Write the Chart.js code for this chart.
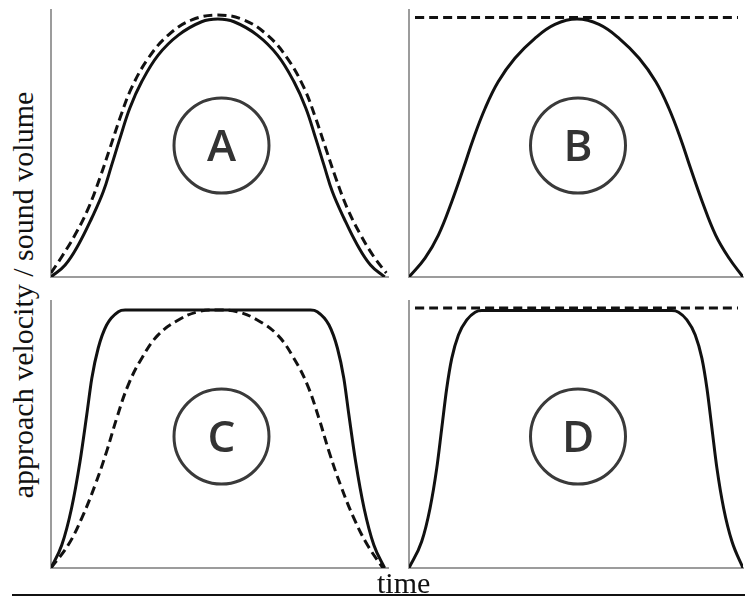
<!DOCTYPE html>
<html>
<head>
<meta charset="utf-8">
<script src="https://cdn.jsdelivr.net/npm/chart.js@4.4.1/dist/chart.umd.min.js"></script>
<style>
  body { margin: 0; background: #fff; }
  #page { position: relative; width: 745px; height: 599px; overflow: hidden; }
  canvas { position: absolute; }
  .ylabel {
    position: absolute; left: 23px; top: 295px;
    font-family: "Liberation Serif", "Times New Roman", serif;
    font-size: 30px; line-height: 30px; color: #111; white-space: nowrap;
    transform: translate(-50%, -50%) rotate(-90deg);
  }
  .xlabel {
    position: absolute; left: 377px; top: 568px;
    font-family: "Liberation Serif", "Times New Roman", serif;
    font-size: 30px; line-height: 30px; color: #111;
  }
  .baseline { position: absolute; left: 12px; top: 594px; width: 733px; height: 2px; background: #111; }
</style>
</head>
<body>
<div id="page">
  <canvas id="chartA" width="355" height="285" style="left:40px;top:0px"></canvas>
  <canvas id="chartB" width="347" height="285" style="left:398px;top:0px"></canvas>
  <canvas id="chartC" width="355" height="285" style="left:40px;top:291px"></canvas>
  <canvas id="chartD" width="347" height="285" style="left:398px;top:291px"></canvas>
  <div class="ylabel">approach velocity / sound volume</div>
  <div class="baseline"></div>
  <div class="xlabel">time</div>
</div>
<script>
// panel letters
const panelLetters = ['A', 'B', 'C', 'D'];

// A: velocity (solid) and sound (dashed) both bell shaped
const aSolidX = [0, 4.2, 8.1, 12.1, 15.5, 18.0, 20.5, 23.4, 26.9, 31.8, 37.8, 44.7, 49.5, 54.3, 61.2, 67.2, 72.1, 75.6, 78.5, 81.0, 83.5, 86.9, 90.9, 94.8, 99];
const aSolidY = [0, 4.5, 12.0, 22.1, 31.9, 41.9, 52.1, 63.3, 73.1, 83.1, 90.6, 95.6, 96.6, 95.6, 90.6, 83.1, 73.1, 63.3, 52.1, 41.9, 31.9, 22.1, 12.0, 4.5, 0];
const aDashX = [0, 3.2, 7.1, 11.1, 14.5, 17.5, 20.5, 23.9, 28.9, 34.8, 41.8, 49.5, 57.2, 64.2, 70.1, 75.1, 78.5, 81.5, 84.5, 87.9, 91.9, 95.8, 99.5];
const aDashY = [1.5, 7.6, 15.7, 25.8, 37.1, 48.3, 59.6, 70.8, 82.0, 90.6, 96.3, 98.1, 96.3, 90.6, 82.0, 70.8, 59.6, 48.3, 37.1, 25.8, 15.7, 7.6, 1.5];

// B: bell shaped velocity, constant sound
const bSolidX = [0, 4.8, 8.8, 12.8, 16.3, 19.3, 22.8, 26.7, 31.7, 37.7, 43.7, 50.3, 56.9, 62.9, 68.9, 73.9, 77.8, 81.3, 84.3, 87.8, 91.8, 95.8, 100];
const bSolidY = [0, 7.1, 15.7, 28.2, 40.7, 51.9, 63.2, 73.1, 81.9, 89.4, 94.6, 96.6, 94.6, 89.4, 81.9, 73.1, 63.2, 51.9, 40.7, 28.2, 15.7, 7.1, 0];
const bDashX = [1.8, 98.5];
const bDashY = [97.2, 97.2];

// C: plateau velocity, bell shaped sound
const cSolidX = [0, 3.2, 6.1, 8.6, 10.6, 12.1, 14.0, 16.5, 20.0, 22.0, 77.0, 79.0, 82.5, 85.0, 86.9, 88.4, 90.4, 92.9, 95.8, 99];
const cSolidY = [0, 8.6, 22.4, 39.8, 57.3, 71.0, 82.3, 91.0, 96.0, 96.6, 96.6, 96.0, 91.0, 82.3, 71.0, 57.3, 39.8, 22.4, 8.6, 0];
const cDashX = [0, 5.1, 9.1, 13.1, 16.5, 19.5, 22.9, 26.9, 31.8, 37.8, 43.7, 49.5, 55.3, 61.2, 67.2, 72.1, 76.1, 79.5, 82.5, 85.9, 89.9, 93.9, 98.5];
const cDashY = [0, 8.6, 18.6, 31.1, 43.6, 56.1, 68.5, 78.5, 87.3, 92.9, 96.0, 96.6, 96.0, 92.9, 87.3, 78.5, 68.5, 56.1, 43.6, 31.1, 18.6, 8.6, 0];

// D: plateau velocity, constant sound
const dSolidX = [0, 3.8, 6.3, 8.3, 9.8, 11.3, 12.8, 14.8, 17.3, 19.8, 21.8, 78.7, 80.7, 83.2, 85.7, 87.7, 89.2, 90.7, 92.2, 94.2, 96.7, 100];
const dSolidY = [0, 9.9, 22.4, 37.3, 52.3, 67.3, 78.5, 87.3, 92.9, 95.8, 96.4, 96.4, 95.8, 92.9, 87.3, 78.5, 67.3, 52.3, 37.3, 22.4, 9.9, 0];
const dDashX = [1.8, 98.5];
const dDashY = [97.4, 97.4];

/**
 * @brief zips x and y arrays into point objects for chart.js
 */
function toPoints(xs, ys) {
    let pts = [];
    for (let i = 0; i < xs.length; i++) {
        pts.push({ x: xs[i], y: ys[i] });
    }
    return pts;
}

// draws the circled letter in the middle of the plot area
const panelMark = {
    id: 'panelMark',
    afterDatasetsDraw(chart, args, opts) {
        const ctx = chart.ctx;
        const area = chart.chartArea;
        const cx = (area.left + area.right) / 2 + 2;
        const cy = (area.top + area.bottom) / 2 + 2;
        ctx.save();
        ctx.beginPath();
        ctx.arc(cx, cy, 47.5, 0, Math.PI * 2);
        ctx.lineWidth = 3;
        ctx.strokeStyle = '#3a3a3a';
        ctx.stroke();
        ctx.fillStyle = '#333';
        ctx.font = '600 44px "Open Sans"';
        ctx.textAlign = 'center';
        ctx.textBaseline = 'alphabetic';
        ctx.fillText(opts.letter, cx, cy + 15.5);
        ctx.restore();
    }
};

/**
 * @brief builds one line dataset; plateau curves use monotone so the flat top stays flat
 */
function lineSet(points, dashed, plateau) {
    let set = {
        data: points,
        borderColor: '#111',
        borderWidth: 3,
        pointRadius: 0,
        fill: false
    };
    if (dashed) set.borderDash = [9, 5];
    if (plateau) {
        set.cubicInterpolationMode = 'monotone';
    } else {
        set.tension = 0.4;
    }
    return set;
}

function makeChart(id, letter, datasets, padRight) {
    let axisStyle = {
        display: true,
        min: 0,
        max: 100,
        grid: { display: false, drawTicks: false },
        ticks: { display: false },
        border: { display: true, color: '#9c9c9c', width: 2 }
    };
    return new Chart(document.getElementById(id), {
        type: 'line',
        data: { datasets: datasets },
        options: {
            responsive: false,
            animation: false,
            layout: { padding: { left: 11, right: padRight, top: 10, bottom: 8 } },
            scales: {
                x: Object.assign({ type: 'linear' }, axisStyle),
                y: Object.assign({ type: 'linear' }, axisStyle)
            },
            plugins: {
                legend: { display: false },
                tooltip: { enabled: false },
                panelMark: { letter: letter }
            }
        },
        plugins: [panelMark]
    });
}

makeChart('chartA', panelLetters[0], [
    lineSet(toPoints(aDashX, aDashY), true, false),
    lineSet(toPoints(aSolidX, aSolidY), false, false)
], 7);
makeChart('chartB', panelLetters[1], [
    lineSet(toPoints(bDashX, bDashY), true, false),
    lineSet(toPoints(bSolidX, bSolidY), false, false)
], 2);
makeChart('chartC', panelLetters[2], [
    lineSet(toPoints(cDashX, cDashY), true, false),
    lineSet(toPoints(cSolidX, cSolidY), false, true)
], 7);
makeChart('chartD', panelLetters[3], [
    lineSet(toPoints(dDashX, dDashY), true, false),
    lineSet(toPoints(dSolidX, dSolidY), false, true)
], 2);
</script>
</body>
</html>
